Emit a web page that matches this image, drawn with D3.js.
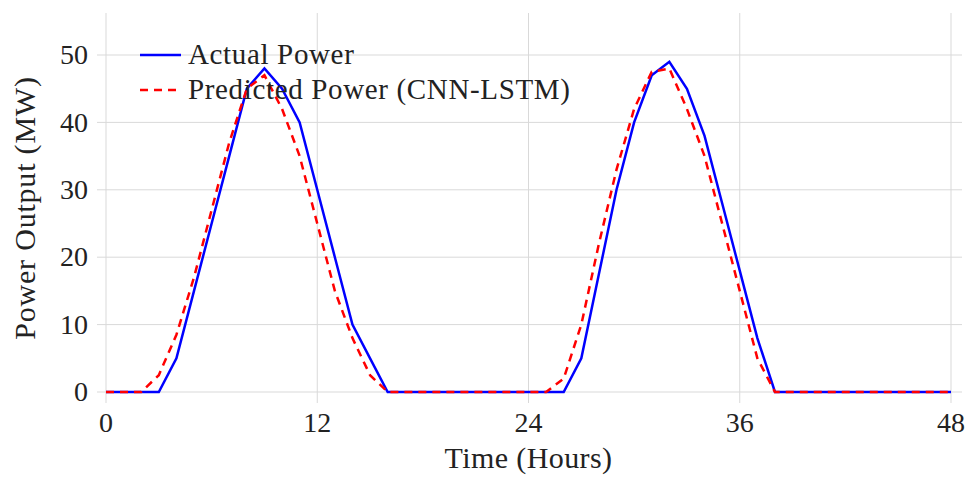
<!DOCTYPE html>
<html>
<head>
<meta charset="utf-8">
<script src="https://cdn.jsdelivr.net/npm/d3@7"></script>
<style>
  body { margin: 0; background: #fff; }
  svg { display: block; font-family: "Liberation Serif", "Times New Roman", serif; }
</style>
</head>
<body>
<div id="chart"></div>
<script>
// Hours 0..48 (hourly readings)
const hours = d3.range(0, 49);

// Measured output, MW
const actualPower = [
  0, 0, 0, 0, 5, 15, 25, 35, 45, 48, 45, 40, 30, 20, 10, 5, 0,
  0, 0, 0, 0, 0, 0, 0, 0, 0, 0,
  5, 17.5, 30, 40, 47, 49, 45, 38, 28, 18, 8, 0,
  0, 0, 0, 0, 0, 0, 0, 0, 0, 0
];

// CNN-LSTM forecast, MW
const predictedPower = [
  0, 0, 0, 2.5, 8.5, 17, 27, 37, 45, 47, 42, 35, 25, 15, 8, 2.5, 0,
  0, 0, 0, 0, 0, 0, 0, 0, 0,
  2, 10, 22, 33, 42, 47.5, 48, 42, 35, 25, 15, 5, 0,
  0, 0, 0, 0, 0, 0, 0, 0, 0, 0
];

const xTicks = [0, 12, 24, 36, 48];
const yTicks = [0, 10, 20, 30, 40, 50];

const seriesNames = ["Actual Power", "Predicted Power (CNN-LSTM)"];

const width = 966, height = 477;
const textColor = "#222";
const gridColor = "#d9d9d9";

const svg = d3.select("#chart").append("svg")
    .attr("width", width)
    .attr("height", height);

// scales: data range mapped inside the plot box, box is a bit larger
const x = d3.scaleLinear().domain([0, 48]).range([106, 951]);
const y = d3.scaleLinear().domain([0, 50]).range([392, 55]);

const box = { left: 97, right: 962, top: 13, bottom: 403 };

// grid
svg.append("g")
  .selectAll("line")
  .data(xTicks)
  .enter().append("line")
    .attr("x1", d => x(d)).attr("x2", d => x(d))
    .attr("y1", box.top).attr("y2", box.bottom)
    .attr("stroke", gridColor)
    .attr("stroke-width", 1);

svg.append("g")
  .selectAll("line")
  .data(yTicks)
  .enter().append("line")
    .attr("x1", box.left).attr("x2", box.right)
    .attr("y1", d => y(d)).attr("y2", d => y(d))
    .attr("stroke", gridColor)
    .attr("stroke-width", 1);

// tick labels
svg.append("g")
  .selectAll("text")
  .data(xTicks)
  .enter().append("text")
    .attr("x", d => x(d))
    .attr("y", 432)
    .attr("text-anchor", "middle")
    .attr("font-size", 28)
    .attr("fill", textColor)
    .text(d => d);

svg.append("g")
  .selectAll("text")
  .data(yTicks)
  .enter().append("text")
    .attr("x", 88)
    .attr("y", d => y(d))
    .attr("dy", "0.33em")
    .attr("text-anchor", "end")
    .attr("font-size", 28)
    .attr("fill", textColor)
    .text(d => d);

// axis titles
svg.append("text")
    .attr("x", (x(0) + x(48)) / 2)
    .attr("y", 468)
    .attr("text-anchor", "middle")
    .attr("font-size", 30)
    .attr("letter-spacing", 0.4)
    .attr("fill", textColor)
    .text("Time (Hours)");

svg.append("text")
    .attr("transform", "translate(35," + ((box.top + box.bottom) / 2) + ") rotate(-90)")
    .attr("text-anchor", "middle")
    .attr("font-size", 30)
    .attr("letter-spacing", 0.8)
    .attr("fill", textColor)
    .text("Power Output (MW)");

// lines
const line = d3.line()
    .x((d, i) => x(hours[i]))
    .y(d => y(d));

svg.append("path")
    .datum(actualPower)
    .attr("fill", "none")
    .attr("stroke", "#0000ff")
    .attr("stroke-width", 2.5)
    .attr("stroke-linejoin", "miter")
    .attr("d", line);

svg.append("path")
    .datum(predictedPower)
    .attr("fill", "none")
    .attr("stroke", "#ff0000")
    .attr("stroke-width", 2.5)
    .attr("stroke-dasharray", "8,6")
    .attr("d", line);

// legend, no frame
const legend = svg.append("g");
const legendStyles = [
  { color: "#0000ff", dash: null },
  { color: "#ff0000", dash: "8,6" }
];

seriesNames.forEach(function(name, i) {
  const cy = 55 + i * 35;
  legend.append("line")
      .attr("x1", 140).attr("x2", 181)
      .attr("y1", cy).attr("y2", cy)
      .attr("stroke", legendStyles[i].color)
      .attr("stroke-width", 2.5)
      .attr("stroke-dasharray", legendStyles[i].dash);
  legend.append("text")
      .attr("x", 188)
      .attr("y", cy + 8.5)
      .attr("font-size", 29)
      .attr("letter-spacing", 0.65)
      .attr("fill", textColor)
      .text(name);
});
</script>
</body>
</html>
